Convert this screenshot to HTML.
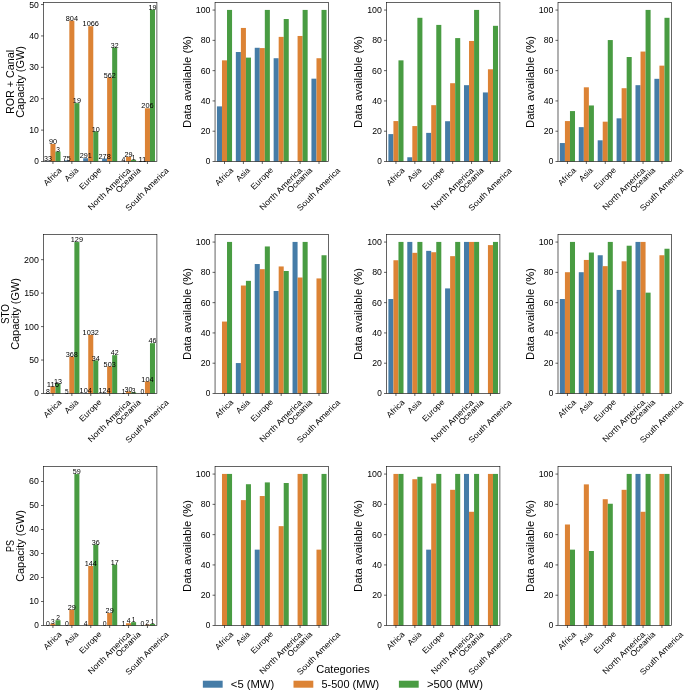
<!DOCTYPE html>
<html><head><meta charset="utf-8"><title>Hydropower capacity and data availability</title>
<style>
html,body{margin:0;padding:0;background:#fff;}
svg{display:block;font-family:"Liberation Sans",sans-serif;}
svg{will-change:transform;transform:translateZ(0);}
</style></head>
<body>
<svg width="685" height="691" viewBox="0 0 685 691">
<rect x="0" y="0" width="685" height="691" fill="#ffffff"/>
<rect x="45.39" y="161.19" width="5.04" height="0.31" fill="#457ca7"/>
<rect x="50.43" y="143.98" width="5.04" height="17.52" fill="#dc8335"/>
<rect x="55.47" y="151.58" width="5.04" height="9.92" fill="#499c42"/>
<rect x="64.29" y="160.40" width="5.04" height="1.10" fill="#457ca7"/>
<rect x="69.33" y="20.64" width="5.04" height="140.86" fill="#dc8335"/>
<rect x="74.37" y="103.11" width="5.04" height="58.39" fill="#499c42"/>
<rect x="83.19" y="158.24" width="5.04" height="3.26" fill="#457ca7"/>
<rect x="88.23" y="26.20" width="5.04" height="135.30" fill="#dc8335"/>
<rect x="93.27" y="131.36" width="5.04" height="30.14" fill="#499c42"/>
<rect x="102.09" y="158.58" width="5.04" height="2.92" fill="#457ca7"/>
<rect x="107.13" y="77.37" width="5.04" height="84.13" fill="#dc8335"/>
<rect x="112.17" y="47.55" width="5.04" height="113.95" fill="#499c42"/>
<rect x="120.99" y="161.41" width="5.04" height="0.09" fill="#457ca7"/>
<rect x="126.03" y="156.79" width="5.04" height="4.71" fill="#dc8335"/>
<rect x="131.07" y="159.80" width="5.04" height="1.70" fill="#499c42"/>
<rect x="139.89" y="161.34" width="5.04" height="0.16" fill="#457ca7"/>
<rect x="144.93" y="108.29" width="5.04" height="53.21" fill="#dc8335"/>
<rect x="149.97" y="9.56" width="5.04" height="151.94" fill="#499c42"/>
<rect x="43.50" y="2.50" width="113.40" height="159.00" fill="none" stroke="#111111" stroke-width="0.65"/>
<line x1="52.95" y1="161.50" x2="52.95" y2="164.00" stroke="#111111" stroke-width="0.65"/>
<g transform="translate(52.95 177.07) rotate(-45)"><text x="0.00" y="2.18" font-size="8.26" text-anchor="middle" textLength="21.77" lengthAdjust="spacingAndGlyphs" fill="#000000">Africa</text></g>
<line x1="71.85" y1="161.50" x2="71.85" y2="164.00" stroke="#111111" stroke-width="0.65"/>
<g transform="translate(71.85 174.96) rotate(-45)"><text x="0.00" y="2.18" font-size="8.26" text-anchor="middle" textLength="15.79" lengthAdjust="spacingAndGlyphs" fill="#000000">Asia</text></g>
<line x1="90.75" y1="161.50" x2="90.75" y2="164.00" stroke="#111111" stroke-width="0.65"/>
<g transform="translate(90.75 178.93) rotate(-45)"><text x="0.00" y="2.18" font-size="8.26" text-anchor="middle" textLength="27.68" lengthAdjust="spacingAndGlyphs" fill="#000000">Europe</text></g>
<line x1="109.65" y1="161.50" x2="109.65" y2="164.00" stroke="#111111" stroke-width="0.65"/>
<g transform="translate(109.65 189.32) rotate(-45)"><text x="0.00" y="2.18" font-size="8.26" text-anchor="middle" textLength="56.43" lengthAdjust="spacingAndGlyphs" fill="#000000">North America</text></g>
<line x1="128.55" y1="161.50" x2="128.55" y2="164.00" stroke="#111111" stroke-width="0.65"/>
<g transform="translate(128.55 180.53) rotate(-45)"><text x="0.00" y="2.18" font-size="8.26" text-anchor="middle" textLength="31.54" lengthAdjust="spacingAndGlyphs" fill="#000000">Oceania</text></g>
<line x1="147.45" y1="161.50" x2="147.45" y2="164.00" stroke="#111111" stroke-width="0.65"/>
<g transform="translate(147.45 189.63) rotate(-45)"><text x="0.00" y="2.18" font-size="8.26" text-anchor="middle" textLength="57.22" lengthAdjust="spacingAndGlyphs" fill="#000000">South America</text></g>
<line x1="41.00" y1="161.50" x2="43.50" y2="161.50" stroke="#111111" stroke-width="0.65"/>
<text x="38.90" y="164.48" font-size="8.41" text-anchor="end" textLength="4.63" lengthAdjust="spacingAndGlyphs" fill="#000000">0</text>
<line x1="41.00" y1="130.11" x2="43.50" y2="130.11" stroke="#111111" stroke-width="0.65"/>
<text x="38.90" y="133.09" font-size="8.41" text-anchor="end" textLength="9.66" lengthAdjust="spacingAndGlyphs" fill="#000000">10</text>
<line x1="41.00" y1="98.72" x2="43.50" y2="98.72" stroke="#111111" stroke-width="0.65"/>
<text x="38.90" y="101.69" font-size="8.41" text-anchor="end" textLength="9.72" lengthAdjust="spacingAndGlyphs" fill="#000000">20</text>
<line x1="41.00" y1="67.32" x2="43.50" y2="67.32" stroke="#111111" stroke-width="0.65"/>
<text x="38.90" y="70.30" font-size="8.41" text-anchor="end" textLength="9.58" lengthAdjust="spacingAndGlyphs" fill="#000000">30</text>
<line x1="41.00" y1="35.93" x2="43.50" y2="35.93" stroke="#111111" stroke-width="0.65"/>
<text x="38.90" y="38.91" font-size="8.41" text-anchor="end" textLength="9.67" lengthAdjust="spacingAndGlyphs" fill="#000000">40</text>
<line x1="41.00" y1="4.54" x2="43.50" y2="4.54" stroke="#111111" stroke-width="0.65"/>
<text x="38.90" y="7.52" font-size="8.41" text-anchor="end" textLength="9.59" lengthAdjust="spacingAndGlyphs" fill="#000000">50</text>
<text x="0.00" y="0.00" font-size="10.40" text-anchor="middle" textLength="64.23" lengthAdjust="spacingAndGlyphs" fill="#000000" transform="translate(13.50 82.00) rotate(-90)">ROR + Canal</text>
<text x="0.00" y="0.00" font-size="10.40" text-anchor="middle" textLength="71.78" lengthAdjust="spacingAndGlyphs" fill="#000000" transform="translate(23.60 82.00) rotate(-90)">Capacity (GW)</text>
<text x="47.91" y="161.39" font-size="6.98" text-anchor="middle" textLength="7.89" lengthAdjust="spacingAndGlyphs" fill="#000000">33</text>
<text x="52.95" y="144.18" font-size="6.98" text-anchor="middle" textLength="8.11" lengthAdjust="spacingAndGlyphs" fill="#000000">90</text>
<text x="57.99" y="151.78" font-size="6.98" text-anchor="middle" textLength="3.69" lengthAdjust="spacingAndGlyphs" fill="#000000">3</text>
<text x="66.81" y="160.60" font-size="6.98" text-anchor="middle" textLength="7.88" lengthAdjust="spacingAndGlyphs" fill="#000000">75</text>
<text x="71.85" y="20.84" font-size="6.98" text-anchor="middle" textLength="12.23" lengthAdjust="spacingAndGlyphs" fill="#000000">804</text>
<text x="76.89" y="103.31" font-size="6.98" text-anchor="middle" textLength="8.05" lengthAdjust="spacingAndGlyphs" fill="#000000">19</text>
<text x="85.71" y="158.44" font-size="6.98" text-anchor="middle" textLength="12.13" lengthAdjust="spacingAndGlyphs" fill="#000000">291</text>
<text x="90.75" y="26.40" font-size="6.98" text-anchor="middle" textLength="16.43" lengthAdjust="spacingAndGlyphs" fill="#000000">1066</text>
<text x="95.79" y="131.56" font-size="6.98" text-anchor="middle" textLength="8.01" lengthAdjust="spacingAndGlyphs" fill="#000000">10</text>
<text x="104.61" y="158.78" font-size="6.98" text-anchor="middle" textLength="12.26" lengthAdjust="spacingAndGlyphs" fill="#000000">278</text>
<text x="109.65" y="77.57" font-size="6.98" text-anchor="middle" textLength="12.00" lengthAdjust="spacingAndGlyphs" fill="#000000">562</text>
<text x="114.69" y="47.75" font-size="6.98" text-anchor="middle" textLength="7.81" lengthAdjust="spacingAndGlyphs" fill="#000000">32</text>
<text x="123.51" y="161.61" font-size="6.98" text-anchor="middle" textLength="3.84" lengthAdjust="spacingAndGlyphs" fill="#000000">4</text>
<text x="128.55" y="156.99" font-size="6.98" text-anchor="middle" textLength="8.10" lengthAdjust="spacingAndGlyphs" fill="#000000">29</text>
<text x="133.59" y="160.00" font-size="6.98" text-anchor="middle" textLength="3.67" lengthAdjust="spacingAndGlyphs" fill="#000000">1</text>
<text x="142.41" y="161.54" font-size="6.98" text-anchor="middle" textLength="7.97" lengthAdjust="spacingAndGlyphs" fill="#000000">11</text>
<text x="147.45" y="108.49" font-size="6.98" text-anchor="middle" textLength="12.30" lengthAdjust="spacingAndGlyphs" fill="#000000">206</text>
<text x="152.49" y="9.76" font-size="6.98" text-anchor="middle" textLength="8.05" lengthAdjust="spacingAndGlyphs" fill="#000000">19</text>
<rect x="216.94" y="106.38" width="5.04" height="55.12" fill="#457ca7"/>
<rect x="221.98" y="60.35" width="5.04" height="101.15" fill="#dc8335"/>
<rect x="227.02" y="9.92" width="5.04" height="151.58" fill="#499c42"/>
<rect x="235.84" y="52.02" width="5.04" height="109.48" fill="#457ca7"/>
<rect x="240.88" y="27.94" width="5.04" height="133.56" fill="#dc8335"/>
<rect x="245.92" y="57.62" width="5.04" height="103.88" fill="#499c42"/>
<rect x="254.74" y="47.78" width="5.04" height="113.72" fill="#457ca7"/>
<rect x="259.78" y="48.08" width="5.04" height="113.42" fill="#dc8335"/>
<rect x="264.82" y="9.92" width="5.04" height="151.58" fill="#499c42"/>
<rect x="273.64" y="58.23" width="5.04" height="103.27" fill="#457ca7"/>
<rect x="278.68" y="36.88" width="5.04" height="124.62" fill="#dc8335"/>
<rect x="283.72" y="19.01" width="5.04" height="142.49" fill="#499c42"/>
<rect x="297.58" y="35.97" width="5.04" height="125.53" fill="#dc8335"/>
<rect x="302.62" y="9.92" width="5.04" height="151.58" fill="#499c42"/>
<rect x="311.44" y="78.67" width="5.04" height="82.83" fill="#457ca7"/>
<rect x="316.48" y="58.23" width="5.04" height="103.27" fill="#dc8335"/>
<rect x="321.52" y="9.92" width="5.04" height="151.58" fill="#499c42"/>
<rect x="215.05" y="2.50" width="113.40" height="159.00" fill="none" stroke="#111111" stroke-width="0.65"/>
<line x1="224.50" y1="161.50" x2="224.50" y2="164.00" stroke="#111111" stroke-width="0.65"/>
<g transform="translate(224.50 177.07) rotate(-45)"><text x="0.00" y="2.18" font-size="8.26" text-anchor="middle" textLength="21.77" lengthAdjust="spacingAndGlyphs" fill="#000000">Africa</text></g>
<line x1="243.40" y1="161.50" x2="243.40" y2="164.00" stroke="#111111" stroke-width="0.65"/>
<g transform="translate(243.40 174.96) rotate(-45)"><text x="0.00" y="2.18" font-size="8.26" text-anchor="middle" textLength="15.79" lengthAdjust="spacingAndGlyphs" fill="#000000">Asia</text></g>
<line x1="262.30" y1="161.50" x2="262.30" y2="164.00" stroke="#111111" stroke-width="0.65"/>
<g transform="translate(262.30 178.93) rotate(-45)"><text x="0.00" y="2.18" font-size="8.26" text-anchor="middle" textLength="27.68" lengthAdjust="spacingAndGlyphs" fill="#000000">Europe</text></g>
<line x1="281.20" y1="161.50" x2="281.20" y2="164.00" stroke="#111111" stroke-width="0.65"/>
<g transform="translate(281.20 189.32) rotate(-45)"><text x="0.00" y="2.18" font-size="8.26" text-anchor="middle" textLength="56.43" lengthAdjust="spacingAndGlyphs" fill="#000000">North America</text></g>
<line x1="300.10" y1="161.50" x2="300.10" y2="164.00" stroke="#111111" stroke-width="0.65"/>
<g transform="translate(300.10 180.53) rotate(-45)"><text x="0.00" y="2.18" font-size="8.26" text-anchor="middle" textLength="31.54" lengthAdjust="spacingAndGlyphs" fill="#000000">Oceania</text></g>
<line x1="319.00" y1="161.50" x2="319.00" y2="164.00" stroke="#111111" stroke-width="0.65"/>
<g transform="translate(319.00 189.63) rotate(-45)"><text x="0.00" y="2.18" font-size="8.26" text-anchor="middle" textLength="57.22" lengthAdjust="spacingAndGlyphs" fill="#000000">South America</text></g>
<line x1="212.55" y1="161.50" x2="215.05" y2="161.50" stroke="#111111" stroke-width="0.65"/>
<text x="210.45" y="164.48" font-size="8.41" text-anchor="end" textLength="4.63" lengthAdjust="spacingAndGlyphs" fill="#000000">0</text>
<line x1="212.55" y1="131.21" x2="215.05" y2="131.21" stroke="#111111" stroke-width="0.65"/>
<text x="210.45" y="134.19" font-size="8.41" text-anchor="end" textLength="9.72" lengthAdjust="spacingAndGlyphs" fill="#000000">20</text>
<line x1="212.55" y1="100.93" x2="215.05" y2="100.93" stroke="#111111" stroke-width="0.65"/>
<text x="210.45" y="103.91" font-size="8.41" text-anchor="end" textLength="9.67" lengthAdjust="spacingAndGlyphs" fill="#000000">40</text>
<line x1="212.55" y1="70.64" x2="215.05" y2="70.64" stroke="#111111" stroke-width="0.65"/>
<text x="210.45" y="73.62" font-size="8.41" text-anchor="end" textLength="9.76" lengthAdjust="spacingAndGlyphs" fill="#000000">60</text>
<line x1="212.55" y1="40.36" x2="215.05" y2="40.36" stroke="#111111" stroke-width="0.65"/>
<text x="210.45" y="43.34" font-size="8.41" text-anchor="end" textLength="9.71" lengthAdjust="spacingAndGlyphs" fill="#000000">80</text>
<line x1="212.55" y1="10.07" x2="215.05" y2="10.07" stroke="#111111" stroke-width="0.65"/>
<text x="210.45" y="13.05" font-size="8.41" text-anchor="end" textLength="14.70" lengthAdjust="spacingAndGlyphs" fill="#000000">100</text>
<text x="0.00" y="0.00" font-size="10.40" text-anchor="middle" textLength="92.01" lengthAdjust="spacingAndGlyphs" fill="#000000" transform="translate(190.95 82.00) rotate(-90)">Data available (%)</text>
<rect x="388.39" y="134.09" width="5.04" height="27.41" fill="#457ca7"/>
<rect x="393.43" y="121.07" width="5.04" height="40.43" fill="#dc8335"/>
<rect x="398.47" y="60.35" width="5.04" height="101.15" fill="#499c42"/>
<rect x="407.29" y="157.26" width="5.04" height="4.24" fill="#457ca7"/>
<rect x="412.33" y="126.07" width="5.04" height="35.43" fill="#dc8335"/>
<rect x="417.37" y="17.80" width="5.04" height="143.70" fill="#499c42"/>
<rect x="426.19" y="132.88" width="5.04" height="28.62" fill="#457ca7"/>
<rect x="431.23" y="105.17" width="5.04" height="56.33" fill="#dc8335"/>
<rect x="436.27" y="24.91" width="5.04" height="136.59" fill="#499c42"/>
<rect x="445.09" y="121.22" width="5.04" height="40.28" fill="#457ca7"/>
<rect x="450.13" y="83.21" width="5.04" height="78.29" fill="#dc8335"/>
<rect x="455.17" y="38.09" width="5.04" height="123.41" fill="#499c42"/>
<rect x="463.99" y="85.18" width="5.04" height="76.32" fill="#457ca7"/>
<rect x="469.03" y="40.96" width="5.04" height="120.54" fill="#dc8335"/>
<rect x="474.07" y="9.92" width="5.04" height="151.58" fill="#499c42"/>
<rect x="482.89" y="92.45" width="5.04" height="69.05" fill="#457ca7"/>
<rect x="487.93" y="69.28" width="5.04" height="92.22" fill="#dc8335"/>
<rect x="492.97" y="25.82" width="5.04" height="135.68" fill="#499c42"/>
<rect x="386.50" y="2.50" width="113.40" height="159.00" fill="none" stroke="#111111" stroke-width="0.65"/>
<line x1="395.95" y1="161.50" x2="395.95" y2="164.00" stroke="#111111" stroke-width="0.65"/>
<g transform="translate(395.95 177.07) rotate(-45)"><text x="0.00" y="2.18" font-size="8.26" text-anchor="middle" textLength="21.77" lengthAdjust="spacingAndGlyphs" fill="#000000">Africa</text></g>
<line x1="414.85" y1="161.50" x2="414.85" y2="164.00" stroke="#111111" stroke-width="0.65"/>
<g transform="translate(414.85 174.96) rotate(-45)"><text x="0.00" y="2.18" font-size="8.26" text-anchor="middle" textLength="15.79" lengthAdjust="spacingAndGlyphs" fill="#000000">Asia</text></g>
<line x1="433.75" y1="161.50" x2="433.75" y2="164.00" stroke="#111111" stroke-width="0.65"/>
<g transform="translate(433.75 178.93) rotate(-45)"><text x="0.00" y="2.18" font-size="8.26" text-anchor="middle" textLength="27.68" lengthAdjust="spacingAndGlyphs" fill="#000000">Europe</text></g>
<line x1="452.65" y1="161.50" x2="452.65" y2="164.00" stroke="#111111" stroke-width="0.65"/>
<g transform="translate(452.65 189.32) rotate(-45)"><text x="0.00" y="2.18" font-size="8.26" text-anchor="middle" textLength="56.43" lengthAdjust="spacingAndGlyphs" fill="#000000">North America</text></g>
<line x1="471.55" y1="161.50" x2="471.55" y2="164.00" stroke="#111111" stroke-width="0.65"/>
<g transform="translate(471.55 180.53) rotate(-45)"><text x="0.00" y="2.18" font-size="8.26" text-anchor="middle" textLength="31.54" lengthAdjust="spacingAndGlyphs" fill="#000000">Oceania</text></g>
<line x1="490.45" y1="161.50" x2="490.45" y2="164.00" stroke="#111111" stroke-width="0.65"/>
<g transform="translate(490.45 189.63) rotate(-45)"><text x="0.00" y="2.18" font-size="8.26" text-anchor="middle" textLength="57.22" lengthAdjust="spacingAndGlyphs" fill="#000000">South America</text></g>
<line x1="384.00" y1="161.50" x2="386.50" y2="161.50" stroke="#111111" stroke-width="0.65"/>
<text x="381.90" y="164.48" font-size="8.41" text-anchor="end" textLength="4.63" lengthAdjust="spacingAndGlyphs" fill="#000000">0</text>
<line x1="384.00" y1="131.21" x2="386.50" y2="131.21" stroke="#111111" stroke-width="0.65"/>
<text x="381.90" y="134.19" font-size="8.41" text-anchor="end" textLength="9.72" lengthAdjust="spacingAndGlyphs" fill="#000000">20</text>
<line x1="384.00" y1="100.93" x2="386.50" y2="100.93" stroke="#111111" stroke-width="0.65"/>
<text x="381.90" y="103.91" font-size="8.41" text-anchor="end" textLength="9.67" lengthAdjust="spacingAndGlyphs" fill="#000000">40</text>
<line x1="384.00" y1="70.64" x2="386.50" y2="70.64" stroke="#111111" stroke-width="0.65"/>
<text x="381.90" y="73.62" font-size="8.41" text-anchor="end" textLength="9.76" lengthAdjust="spacingAndGlyphs" fill="#000000">60</text>
<line x1="384.00" y1="40.36" x2="386.50" y2="40.36" stroke="#111111" stroke-width="0.65"/>
<text x="381.90" y="43.34" font-size="8.41" text-anchor="end" textLength="9.71" lengthAdjust="spacingAndGlyphs" fill="#000000">80</text>
<line x1="384.00" y1="10.07" x2="386.50" y2="10.07" stroke="#111111" stroke-width="0.65"/>
<text x="381.90" y="13.05" font-size="8.41" text-anchor="end" textLength="14.70" lengthAdjust="spacingAndGlyphs" fill="#000000">100</text>
<text x="0.00" y="0.00" font-size="10.40" text-anchor="middle" textLength="92.01" lengthAdjust="spacingAndGlyphs" fill="#000000" transform="translate(362.40 82.00) rotate(-90)">Data available (%)</text>
<rect x="559.89" y="143.03" width="5.04" height="18.47" fill="#457ca7"/>
<rect x="564.93" y="121.07" width="5.04" height="40.43" fill="#dc8335"/>
<rect x="569.97" y="111.08" width="5.04" height="50.42" fill="#499c42"/>
<rect x="578.79" y="127.13" width="5.04" height="34.37" fill="#457ca7"/>
<rect x="583.83" y="87.30" width="5.04" height="74.20" fill="#dc8335"/>
<rect x="588.87" y="105.47" width="5.04" height="56.03" fill="#499c42"/>
<rect x="597.69" y="140.30" width="5.04" height="21.20" fill="#457ca7"/>
<rect x="602.73" y="121.68" width="5.04" height="39.82" fill="#dc8335"/>
<rect x="607.77" y="40.06" width="5.04" height="121.44" fill="#499c42"/>
<rect x="616.59" y="118.34" width="5.04" height="43.16" fill="#457ca7"/>
<rect x="621.63" y="88.21" width="5.04" height="73.29" fill="#dc8335"/>
<rect x="626.67" y="57.02" width="5.04" height="104.48" fill="#499c42"/>
<rect x="635.49" y="85.18" width="5.04" height="76.32" fill="#457ca7"/>
<rect x="640.53" y="51.56" width="5.04" height="109.94" fill="#dc8335"/>
<rect x="645.57" y="9.92" width="5.04" height="151.58" fill="#499c42"/>
<rect x="654.39" y="78.82" width="5.04" height="82.68" fill="#457ca7"/>
<rect x="659.43" y="65.65" width="5.04" height="95.85" fill="#dc8335"/>
<rect x="664.47" y="17.80" width="5.04" height="143.70" fill="#499c42"/>
<rect x="558.00" y="2.50" width="113.40" height="159.00" fill="none" stroke="#111111" stroke-width="0.65"/>
<line x1="567.45" y1="161.50" x2="567.45" y2="164.00" stroke="#111111" stroke-width="0.65"/>
<g transform="translate(567.45 177.07) rotate(-45)"><text x="0.00" y="2.18" font-size="8.26" text-anchor="middle" textLength="21.77" lengthAdjust="spacingAndGlyphs" fill="#000000">Africa</text></g>
<line x1="586.35" y1="161.50" x2="586.35" y2="164.00" stroke="#111111" stroke-width="0.65"/>
<g transform="translate(586.35 174.96) rotate(-45)"><text x="0.00" y="2.18" font-size="8.26" text-anchor="middle" textLength="15.79" lengthAdjust="spacingAndGlyphs" fill="#000000">Asia</text></g>
<line x1="605.25" y1="161.50" x2="605.25" y2="164.00" stroke="#111111" stroke-width="0.65"/>
<g transform="translate(605.25 178.93) rotate(-45)"><text x="0.00" y="2.18" font-size="8.26" text-anchor="middle" textLength="27.68" lengthAdjust="spacingAndGlyphs" fill="#000000">Europe</text></g>
<line x1="624.15" y1="161.50" x2="624.15" y2="164.00" stroke="#111111" stroke-width="0.65"/>
<g transform="translate(624.15 189.32) rotate(-45)"><text x="0.00" y="2.18" font-size="8.26" text-anchor="middle" textLength="56.43" lengthAdjust="spacingAndGlyphs" fill="#000000">North America</text></g>
<line x1="643.05" y1="161.50" x2="643.05" y2="164.00" stroke="#111111" stroke-width="0.65"/>
<g transform="translate(643.05 180.53) rotate(-45)"><text x="0.00" y="2.18" font-size="8.26" text-anchor="middle" textLength="31.54" lengthAdjust="spacingAndGlyphs" fill="#000000">Oceania</text></g>
<line x1="661.95" y1="161.50" x2="661.95" y2="164.00" stroke="#111111" stroke-width="0.65"/>
<g transform="translate(661.95 189.63) rotate(-45)"><text x="0.00" y="2.18" font-size="8.26" text-anchor="middle" textLength="57.22" lengthAdjust="spacingAndGlyphs" fill="#000000">South America</text></g>
<line x1="555.50" y1="161.50" x2="558.00" y2="161.50" stroke="#111111" stroke-width="0.65"/>
<text x="553.40" y="164.48" font-size="8.41" text-anchor="end" textLength="4.63" lengthAdjust="spacingAndGlyphs" fill="#000000">0</text>
<line x1="555.50" y1="131.21" x2="558.00" y2="131.21" stroke="#111111" stroke-width="0.65"/>
<text x="553.40" y="134.19" font-size="8.41" text-anchor="end" textLength="9.72" lengthAdjust="spacingAndGlyphs" fill="#000000">20</text>
<line x1="555.50" y1="100.93" x2="558.00" y2="100.93" stroke="#111111" stroke-width="0.65"/>
<text x="553.40" y="103.91" font-size="8.41" text-anchor="end" textLength="9.67" lengthAdjust="spacingAndGlyphs" fill="#000000">40</text>
<line x1="555.50" y1="70.64" x2="558.00" y2="70.64" stroke="#111111" stroke-width="0.65"/>
<text x="553.40" y="73.62" font-size="8.41" text-anchor="end" textLength="9.76" lengthAdjust="spacingAndGlyphs" fill="#000000">60</text>
<line x1="555.50" y1="40.36" x2="558.00" y2="40.36" stroke="#111111" stroke-width="0.65"/>
<text x="553.40" y="43.34" font-size="8.41" text-anchor="end" textLength="9.71" lengthAdjust="spacingAndGlyphs" fill="#000000">80</text>
<line x1="555.50" y1="10.07" x2="558.00" y2="10.07" stroke="#111111" stroke-width="0.65"/>
<text x="553.40" y="13.05" font-size="8.41" text-anchor="end" textLength="14.70" lengthAdjust="spacingAndGlyphs" fill="#000000">100</text>
<text x="0.00" y="0.00" font-size="10.40" text-anchor="middle" textLength="92.01" lengthAdjust="spacingAndGlyphs" fill="#000000" transform="translate(533.90 82.00) rotate(-90)">Data available (%)</text>
<rect x="45.39" y="393.43" width="5.04" height="0.07" fill="#457ca7"/>
<rect x="50.43" y="386.47" width="5.04" height="7.03" fill="#dc8335"/>
<rect x="55.47" y="383.53" width="5.04" height="9.97" fill="#499c42"/>
<rect x="64.29" y="393.37" width="5.04" height="0.13" fill="#457ca7"/>
<rect x="69.33" y="356.69" width="5.04" height="36.81" fill="#dc8335"/>
<rect x="74.37" y="242.06" width="5.04" height="151.44" fill="#499c42"/>
<rect x="83.19" y="393.10" width="5.04" height="0.40" fill="#457ca7"/>
<rect x="88.23" y="334.81" width="5.04" height="58.69" fill="#dc8335"/>
<rect x="93.27" y="360.38" width="5.04" height="33.12" fill="#499c42"/>
<rect x="102.09" y="393.10" width="5.04" height="0.40" fill="#457ca7"/>
<rect x="107.13" y="366.33" width="5.04" height="27.17" fill="#dc8335"/>
<rect x="112.17" y="355.16" width="5.04" height="38.34" fill="#499c42"/>
<rect x="126.03" y="391.43" width="5.04" height="2.07" fill="#dc8335"/>
<rect x="131.07" y="392.30" width="5.04" height="1.20" fill="#499c42"/>
<rect x="144.93" y="381.39" width="5.04" height="12.11" fill="#dc8335"/>
<rect x="149.97" y="343.18" width="5.04" height="50.32" fill="#499c42"/>
<rect x="43.50" y="234.50" width="113.40" height="159.00" fill="none" stroke="#111111" stroke-width="0.65"/>
<line x1="52.95" y1="393.50" x2="52.95" y2="396.00" stroke="#111111" stroke-width="0.65"/>
<g transform="translate(52.95 409.07) rotate(-45)"><text x="0.00" y="2.18" font-size="8.26" text-anchor="middle" textLength="21.77" lengthAdjust="spacingAndGlyphs" fill="#000000">Africa</text></g>
<line x1="71.85" y1="393.50" x2="71.85" y2="396.00" stroke="#111111" stroke-width="0.65"/>
<g transform="translate(71.85 406.96) rotate(-45)"><text x="0.00" y="2.18" font-size="8.26" text-anchor="middle" textLength="15.79" lengthAdjust="spacingAndGlyphs" fill="#000000">Asia</text></g>
<line x1="90.75" y1="393.50" x2="90.75" y2="396.00" stroke="#111111" stroke-width="0.65"/>
<g transform="translate(90.75 410.93) rotate(-45)"><text x="0.00" y="2.18" font-size="8.26" text-anchor="middle" textLength="27.68" lengthAdjust="spacingAndGlyphs" fill="#000000">Europe</text></g>
<line x1="109.65" y1="393.50" x2="109.65" y2="396.00" stroke="#111111" stroke-width="0.65"/>
<g transform="translate(109.65 421.32) rotate(-45)"><text x="0.00" y="2.18" font-size="8.26" text-anchor="middle" textLength="56.43" lengthAdjust="spacingAndGlyphs" fill="#000000">North America</text></g>
<line x1="128.55" y1="393.50" x2="128.55" y2="396.00" stroke="#111111" stroke-width="0.65"/>
<g transform="translate(128.55 412.53) rotate(-45)"><text x="0.00" y="2.18" font-size="8.26" text-anchor="middle" textLength="31.54" lengthAdjust="spacingAndGlyphs" fill="#000000">Oceania</text></g>
<line x1="147.45" y1="393.50" x2="147.45" y2="396.00" stroke="#111111" stroke-width="0.65"/>
<g transform="translate(147.45 421.63) rotate(-45)"><text x="0.00" y="2.18" font-size="8.26" text-anchor="middle" textLength="57.22" lengthAdjust="spacingAndGlyphs" fill="#000000">South America</text></g>
<line x1="41.00" y1="393.50" x2="43.50" y2="393.50" stroke="#111111" stroke-width="0.65"/>
<text x="38.90" y="396.48" font-size="8.41" text-anchor="end" textLength="4.63" lengthAdjust="spacingAndGlyphs" fill="#000000">0</text>
<line x1="41.00" y1="360.04" x2="43.50" y2="360.04" stroke="#111111" stroke-width="0.65"/>
<text x="38.90" y="363.02" font-size="8.41" text-anchor="end" textLength="9.59" lengthAdjust="spacingAndGlyphs" fill="#000000">50</text>
<line x1="41.00" y1="326.58" x2="43.50" y2="326.58" stroke="#111111" stroke-width="0.65"/>
<text x="38.90" y="329.56" font-size="8.41" text-anchor="end" textLength="14.70" lengthAdjust="spacingAndGlyphs" fill="#000000">100</text>
<line x1="41.00" y1="293.12" x2="43.50" y2="293.12" stroke="#111111" stroke-width="0.65"/>
<text x="38.90" y="296.10" font-size="8.41" text-anchor="end" textLength="14.70" lengthAdjust="spacingAndGlyphs" fill="#000000">150</text>
<line x1="41.00" y1="259.66" x2="43.50" y2="259.66" stroke="#111111" stroke-width="0.65"/>
<text x="38.90" y="262.64" font-size="8.41" text-anchor="end" textLength="14.76" lengthAdjust="spacingAndGlyphs" fill="#000000">200</text>
<text x="0.00" y="0.00" font-size="10.40" text-anchor="middle" textLength="19.93" lengthAdjust="spacingAndGlyphs" fill="#000000" transform="translate(8.80 314.00) rotate(-90)">STO</text>
<text x="0.00" y="0.00" font-size="10.40" text-anchor="middle" textLength="71.78" lengthAdjust="spacingAndGlyphs" fill="#000000" transform="translate(18.90 314.00) rotate(-90)">Capacity (GW)</text>
<text x="47.91" y="393.63" font-size="6.98" text-anchor="middle" textLength="3.88" lengthAdjust="spacingAndGlyphs" fill="#000000">8</text>
<text x="52.95" y="386.67" font-size="6.98" text-anchor="middle" textLength="12.30" lengthAdjust="spacingAndGlyphs" fill="#000000">116</text>
<text x="57.99" y="383.73" font-size="6.98" text-anchor="middle" textLength="7.95" lengthAdjust="spacingAndGlyphs" fill="#000000">13</text>
<text x="66.81" y="393.57" font-size="6.98" text-anchor="middle" textLength="3.62" lengthAdjust="spacingAndGlyphs" fill="#000000">5</text>
<text x="71.85" y="356.89" font-size="6.98" text-anchor="middle" textLength="12.15" lengthAdjust="spacingAndGlyphs" fill="#000000">368</text>
<text x="76.89" y="242.26" font-size="6.98" text-anchor="middle" textLength="12.23" lengthAdjust="spacingAndGlyphs" fill="#000000">129</text>
<text x="85.71" y="393.30" font-size="6.98" text-anchor="middle" textLength="12.19" lengthAdjust="spacingAndGlyphs" fill="#000000">104</text>
<text x="90.75" y="335.01" font-size="6.98" text-anchor="middle" textLength="16.23" lengthAdjust="spacingAndGlyphs" fill="#000000">1032</text>
<text x="95.79" y="360.57" font-size="6.98" text-anchor="middle" textLength="7.95" lengthAdjust="spacingAndGlyphs" fill="#000000">34</text>
<text x="104.61" y="393.30" font-size="6.98" text-anchor="middle" textLength="12.19" lengthAdjust="spacingAndGlyphs" fill="#000000">124</text>
<text x="109.65" y="366.53" font-size="6.98" text-anchor="middle" textLength="12.08" lengthAdjust="spacingAndGlyphs" fill="#000000">503</text>
<text x="114.69" y="355.36" font-size="6.98" text-anchor="middle" textLength="7.88" lengthAdjust="spacingAndGlyphs" fill="#000000">42</text>
<text x="123.51" y="393.70" font-size="6.98" text-anchor="middle" textLength="3.67" lengthAdjust="spacingAndGlyphs" fill="#000000">1</text>
<text x="128.55" y="391.63" font-size="6.98" text-anchor="middle" textLength="7.95" lengthAdjust="spacingAndGlyphs" fill="#000000">30</text>
<text x="133.59" y="392.50" font-size="6.98" text-anchor="middle" textLength="3.69" lengthAdjust="spacingAndGlyphs" fill="#000000">3</text>
<text x="142.41" y="393.70" font-size="6.98" text-anchor="middle" textLength="3.84" lengthAdjust="spacingAndGlyphs" fill="#000000">0</text>
<text x="147.45" y="381.59" font-size="6.98" text-anchor="middle" textLength="12.19" lengthAdjust="spacingAndGlyphs" fill="#000000">104</text>
<text x="152.49" y="343.38" font-size="6.98" text-anchor="middle" textLength="8.09" lengthAdjust="spacingAndGlyphs" fill="#000000">46</text>
<rect x="221.98" y="321.57" width="5.04" height="71.93" fill="#dc8335"/>
<rect x="227.02" y="241.92" width="5.04" height="151.58" fill="#499c42"/>
<rect x="235.84" y="363.06" width="5.04" height="30.44" fill="#457ca7"/>
<rect x="240.88" y="285.53" width="5.04" height="107.97" fill="#dc8335"/>
<rect x="245.92" y="280.84" width="5.04" height="112.66" fill="#499c42"/>
<rect x="254.74" y="264.03" width="5.04" height="129.47" fill="#457ca7"/>
<rect x="259.78" y="269.18" width="5.04" height="124.32" fill="#dc8335"/>
<rect x="264.82" y="246.46" width="5.04" height="147.04" fill="#499c42"/>
<rect x="273.64" y="290.98" width="5.04" height="102.52" fill="#457ca7"/>
<rect x="278.68" y="266.45" width="5.04" height="127.05" fill="#dc8335"/>
<rect x="283.72" y="271.00" width="5.04" height="122.50" fill="#499c42"/>
<rect x="292.54" y="241.92" width="5.04" height="151.58" fill="#457ca7"/>
<rect x="297.58" y="277.51" width="5.04" height="115.99" fill="#dc8335"/>
<rect x="302.62" y="241.92" width="5.04" height="151.58" fill="#499c42"/>
<rect x="316.48" y="278.42" width="5.04" height="115.08" fill="#dc8335"/>
<rect x="321.52" y="255.25" width="5.04" height="138.25" fill="#499c42"/>
<rect x="215.05" y="234.50" width="113.40" height="159.00" fill="none" stroke="#111111" stroke-width="0.65"/>
<line x1="224.50" y1="393.50" x2="224.50" y2="396.00" stroke="#111111" stroke-width="0.65"/>
<g transform="translate(224.50 409.07) rotate(-45)"><text x="0.00" y="2.18" font-size="8.26" text-anchor="middle" textLength="21.77" lengthAdjust="spacingAndGlyphs" fill="#000000">Africa</text></g>
<line x1="243.40" y1="393.50" x2="243.40" y2="396.00" stroke="#111111" stroke-width="0.65"/>
<g transform="translate(243.40 406.96) rotate(-45)"><text x="0.00" y="2.18" font-size="8.26" text-anchor="middle" textLength="15.79" lengthAdjust="spacingAndGlyphs" fill="#000000">Asia</text></g>
<line x1="262.30" y1="393.50" x2="262.30" y2="396.00" stroke="#111111" stroke-width="0.65"/>
<g transform="translate(262.30 410.93) rotate(-45)"><text x="0.00" y="2.18" font-size="8.26" text-anchor="middle" textLength="27.68" lengthAdjust="spacingAndGlyphs" fill="#000000">Europe</text></g>
<line x1="281.20" y1="393.50" x2="281.20" y2="396.00" stroke="#111111" stroke-width="0.65"/>
<g transform="translate(281.20 421.32) rotate(-45)"><text x="0.00" y="2.18" font-size="8.26" text-anchor="middle" textLength="56.43" lengthAdjust="spacingAndGlyphs" fill="#000000">North America</text></g>
<line x1="300.10" y1="393.50" x2="300.10" y2="396.00" stroke="#111111" stroke-width="0.65"/>
<g transform="translate(300.10 412.53) rotate(-45)"><text x="0.00" y="2.18" font-size="8.26" text-anchor="middle" textLength="31.54" lengthAdjust="spacingAndGlyphs" fill="#000000">Oceania</text></g>
<line x1="319.00" y1="393.50" x2="319.00" y2="396.00" stroke="#111111" stroke-width="0.65"/>
<g transform="translate(319.00 421.63) rotate(-45)"><text x="0.00" y="2.18" font-size="8.26" text-anchor="middle" textLength="57.22" lengthAdjust="spacingAndGlyphs" fill="#000000">South America</text></g>
<line x1="212.55" y1="393.50" x2="215.05" y2="393.50" stroke="#111111" stroke-width="0.65"/>
<text x="210.45" y="396.48" font-size="8.41" text-anchor="end" textLength="4.63" lengthAdjust="spacingAndGlyphs" fill="#000000">0</text>
<line x1="212.55" y1="363.21" x2="215.05" y2="363.21" stroke="#111111" stroke-width="0.65"/>
<text x="210.45" y="366.19" font-size="8.41" text-anchor="end" textLength="9.72" lengthAdjust="spacingAndGlyphs" fill="#000000">20</text>
<line x1="212.55" y1="332.93" x2="215.05" y2="332.93" stroke="#111111" stroke-width="0.65"/>
<text x="210.45" y="335.91" font-size="8.41" text-anchor="end" textLength="9.67" lengthAdjust="spacingAndGlyphs" fill="#000000">40</text>
<line x1="212.55" y1="302.64" x2="215.05" y2="302.64" stroke="#111111" stroke-width="0.65"/>
<text x="210.45" y="305.62" font-size="8.41" text-anchor="end" textLength="9.76" lengthAdjust="spacingAndGlyphs" fill="#000000">60</text>
<line x1="212.55" y1="272.36" x2="215.05" y2="272.36" stroke="#111111" stroke-width="0.65"/>
<text x="210.45" y="275.34" font-size="8.41" text-anchor="end" textLength="9.71" lengthAdjust="spacingAndGlyphs" fill="#000000">80</text>
<line x1="212.55" y1="242.07" x2="215.05" y2="242.07" stroke="#111111" stroke-width="0.65"/>
<text x="210.45" y="245.05" font-size="8.41" text-anchor="end" textLength="14.70" lengthAdjust="spacingAndGlyphs" fill="#000000">100</text>
<text x="0.00" y="0.00" font-size="10.40" text-anchor="middle" textLength="92.01" lengthAdjust="spacingAndGlyphs" fill="#000000" transform="translate(190.95 314.00) rotate(-90)">Data available (%)</text>
<rect x="388.39" y="299.01" width="5.04" height="94.49" fill="#457ca7"/>
<rect x="393.43" y="260.24" width="5.04" height="133.26" fill="#dc8335"/>
<rect x="398.47" y="241.92" width="5.04" height="151.58" fill="#499c42"/>
<rect x="407.29" y="241.92" width="5.04" height="151.58" fill="#457ca7"/>
<rect x="412.33" y="252.82" width="5.04" height="140.68" fill="#dc8335"/>
<rect x="417.37" y="241.92" width="5.04" height="151.58" fill="#499c42"/>
<rect x="426.19" y="250.86" width="5.04" height="142.64" fill="#457ca7"/>
<rect x="431.23" y="252.22" width="5.04" height="141.28" fill="#dc8335"/>
<rect x="436.27" y="241.92" width="5.04" height="151.58" fill="#499c42"/>
<rect x="445.09" y="288.41" width="5.04" height="105.09" fill="#457ca7"/>
<rect x="450.13" y="256.16" width="5.04" height="137.34" fill="#dc8335"/>
<rect x="455.17" y="241.92" width="5.04" height="151.58" fill="#499c42"/>
<rect x="463.99" y="241.92" width="5.04" height="151.58" fill="#457ca7"/>
<rect x="469.03" y="241.92" width="5.04" height="151.58" fill="#dc8335"/>
<rect x="474.07" y="241.92" width="5.04" height="151.58" fill="#499c42"/>
<rect x="487.93" y="245.10" width="5.04" height="148.40" fill="#dc8335"/>
<rect x="492.97" y="241.92" width="5.04" height="151.58" fill="#499c42"/>
<rect x="386.50" y="234.50" width="113.40" height="159.00" fill="none" stroke="#111111" stroke-width="0.65"/>
<line x1="395.95" y1="393.50" x2="395.95" y2="396.00" stroke="#111111" stroke-width="0.65"/>
<g transform="translate(395.95 409.07) rotate(-45)"><text x="0.00" y="2.18" font-size="8.26" text-anchor="middle" textLength="21.77" lengthAdjust="spacingAndGlyphs" fill="#000000">Africa</text></g>
<line x1="414.85" y1="393.50" x2="414.85" y2="396.00" stroke="#111111" stroke-width="0.65"/>
<g transform="translate(414.85 406.96) rotate(-45)"><text x="0.00" y="2.18" font-size="8.26" text-anchor="middle" textLength="15.79" lengthAdjust="spacingAndGlyphs" fill="#000000">Asia</text></g>
<line x1="433.75" y1="393.50" x2="433.75" y2="396.00" stroke="#111111" stroke-width="0.65"/>
<g transform="translate(433.75 410.93) rotate(-45)"><text x="0.00" y="2.18" font-size="8.26" text-anchor="middle" textLength="27.68" lengthAdjust="spacingAndGlyphs" fill="#000000">Europe</text></g>
<line x1="452.65" y1="393.50" x2="452.65" y2="396.00" stroke="#111111" stroke-width="0.65"/>
<g transform="translate(452.65 421.32) rotate(-45)"><text x="0.00" y="2.18" font-size="8.26" text-anchor="middle" textLength="56.43" lengthAdjust="spacingAndGlyphs" fill="#000000">North America</text></g>
<line x1="471.55" y1="393.50" x2="471.55" y2="396.00" stroke="#111111" stroke-width="0.65"/>
<g transform="translate(471.55 412.53) rotate(-45)"><text x="0.00" y="2.18" font-size="8.26" text-anchor="middle" textLength="31.54" lengthAdjust="spacingAndGlyphs" fill="#000000">Oceania</text></g>
<line x1="490.45" y1="393.50" x2="490.45" y2="396.00" stroke="#111111" stroke-width="0.65"/>
<g transform="translate(490.45 421.63) rotate(-45)"><text x="0.00" y="2.18" font-size="8.26" text-anchor="middle" textLength="57.22" lengthAdjust="spacingAndGlyphs" fill="#000000">South America</text></g>
<line x1="384.00" y1="393.50" x2="386.50" y2="393.50" stroke="#111111" stroke-width="0.65"/>
<text x="381.90" y="396.48" font-size="8.41" text-anchor="end" textLength="4.63" lengthAdjust="spacingAndGlyphs" fill="#000000">0</text>
<line x1="384.00" y1="363.21" x2="386.50" y2="363.21" stroke="#111111" stroke-width="0.65"/>
<text x="381.90" y="366.19" font-size="8.41" text-anchor="end" textLength="9.72" lengthAdjust="spacingAndGlyphs" fill="#000000">20</text>
<line x1="384.00" y1="332.93" x2="386.50" y2="332.93" stroke="#111111" stroke-width="0.65"/>
<text x="381.90" y="335.91" font-size="8.41" text-anchor="end" textLength="9.67" lengthAdjust="spacingAndGlyphs" fill="#000000">40</text>
<line x1="384.00" y1="302.64" x2="386.50" y2="302.64" stroke="#111111" stroke-width="0.65"/>
<text x="381.90" y="305.62" font-size="8.41" text-anchor="end" textLength="9.76" lengthAdjust="spacingAndGlyphs" fill="#000000">60</text>
<line x1="384.00" y1="272.36" x2="386.50" y2="272.36" stroke="#111111" stroke-width="0.65"/>
<text x="381.90" y="275.34" font-size="8.41" text-anchor="end" textLength="9.71" lengthAdjust="spacingAndGlyphs" fill="#000000">80</text>
<line x1="384.00" y1="242.07" x2="386.50" y2="242.07" stroke="#111111" stroke-width="0.65"/>
<text x="381.90" y="245.05" font-size="8.41" text-anchor="end" textLength="14.70" lengthAdjust="spacingAndGlyphs" fill="#000000">100</text>
<text x="0.00" y="0.00" font-size="10.40" text-anchor="middle" textLength="92.01" lengthAdjust="spacingAndGlyphs" fill="#000000" transform="translate(362.40 314.00) rotate(-90)">Data available (%)</text>
<rect x="559.89" y="299.01" width="5.04" height="94.49" fill="#457ca7"/>
<rect x="564.93" y="272.21" width="5.04" height="121.29" fill="#dc8335"/>
<rect x="569.97" y="241.92" width="5.04" height="151.58" fill="#499c42"/>
<rect x="578.79" y="272.21" width="5.04" height="121.29" fill="#457ca7"/>
<rect x="583.83" y="259.94" width="5.04" height="133.56" fill="#dc8335"/>
<rect x="588.87" y="252.52" width="5.04" height="140.98" fill="#499c42"/>
<rect x="597.69" y="255.25" width="5.04" height="138.25" fill="#457ca7"/>
<rect x="602.73" y="266.15" width="5.04" height="127.35" fill="#dc8335"/>
<rect x="607.77" y="241.92" width="5.04" height="151.58" fill="#499c42"/>
<rect x="616.59" y="289.92" width="5.04" height="103.58" fill="#457ca7"/>
<rect x="621.63" y="261.30" width="5.04" height="132.20" fill="#dc8335"/>
<rect x="626.67" y="245.71" width="5.04" height="147.79" fill="#499c42"/>
<rect x="635.49" y="241.92" width="5.04" height="151.58" fill="#457ca7"/>
<rect x="640.53" y="241.92" width="5.04" height="151.58" fill="#dc8335"/>
<rect x="645.57" y="292.65" width="5.04" height="100.85" fill="#499c42"/>
<rect x="659.43" y="255.25" width="5.04" height="138.25" fill="#dc8335"/>
<rect x="664.47" y="248.74" width="5.04" height="144.76" fill="#499c42"/>
<rect x="558.00" y="234.50" width="113.40" height="159.00" fill="none" stroke="#111111" stroke-width="0.65"/>
<line x1="567.45" y1="393.50" x2="567.45" y2="396.00" stroke="#111111" stroke-width="0.65"/>
<g transform="translate(567.45 409.07) rotate(-45)"><text x="0.00" y="2.18" font-size="8.26" text-anchor="middle" textLength="21.77" lengthAdjust="spacingAndGlyphs" fill="#000000">Africa</text></g>
<line x1="586.35" y1="393.50" x2="586.35" y2="396.00" stroke="#111111" stroke-width="0.65"/>
<g transform="translate(586.35 406.96) rotate(-45)"><text x="0.00" y="2.18" font-size="8.26" text-anchor="middle" textLength="15.79" lengthAdjust="spacingAndGlyphs" fill="#000000">Asia</text></g>
<line x1="605.25" y1="393.50" x2="605.25" y2="396.00" stroke="#111111" stroke-width="0.65"/>
<g transform="translate(605.25 410.93) rotate(-45)"><text x="0.00" y="2.18" font-size="8.26" text-anchor="middle" textLength="27.68" lengthAdjust="spacingAndGlyphs" fill="#000000">Europe</text></g>
<line x1="624.15" y1="393.50" x2="624.15" y2="396.00" stroke="#111111" stroke-width="0.65"/>
<g transform="translate(624.15 421.32) rotate(-45)"><text x="0.00" y="2.18" font-size="8.26" text-anchor="middle" textLength="56.43" lengthAdjust="spacingAndGlyphs" fill="#000000">North America</text></g>
<line x1="643.05" y1="393.50" x2="643.05" y2="396.00" stroke="#111111" stroke-width="0.65"/>
<g transform="translate(643.05 412.53) rotate(-45)"><text x="0.00" y="2.18" font-size="8.26" text-anchor="middle" textLength="31.54" lengthAdjust="spacingAndGlyphs" fill="#000000">Oceania</text></g>
<line x1="661.95" y1="393.50" x2="661.95" y2="396.00" stroke="#111111" stroke-width="0.65"/>
<g transform="translate(661.95 421.63) rotate(-45)"><text x="0.00" y="2.18" font-size="8.26" text-anchor="middle" textLength="57.22" lengthAdjust="spacingAndGlyphs" fill="#000000">South America</text></g>
<line x1="555.50" y1="393.50" x2="558.00" y2="393.50" stroke="#111111" stroke-width="0.65"/>
<text x="553.40" y="396.48" font-size="8.41" text-anchor="end" textLength="4.63" lengthAdjust="spacingAndGlyphs" fill="#000000">0</text>
<line x1="555.50" y1="363.21" x2="558.00" y2="363.21" stroke="#111111" stroke-width="0.65"/>
<text x="553.40" y="366.19" font-size="8.41" text-anchor="end" textLength="9.72" lengthAdjust="spacingAndGlyphs" fill="#000000">20</text>
<line x1="555.50" y1="332.93" x2="558.00" y2="332.93" stroke="#111111" stroke-width="0.65"/>
<text x="553.40" y="335.91" font-size="8.41" text-anchor="end" textLength="9.67" lengthAdjust="spacingAndGlyphs" fill="#000000">40</text>
<line x1="555.50" y1="302.64" x2="558.00" y2="302.64" stroke="#111111" stroke-width="0.65"/>
<text x="553.40" y="305.62" font-size="8.41" text-anchor="end" textLength="9.76" lengthAdjust="spacingAndGlyphs" fill="#000000">60</text>
<line x1="555.50" y1="272.36" x2="558.00" y2="272.36" stroke="#111111" stroke-width="0.65"/>
<text x="553.40" y="275.34" font-size="8.41" text-anchor="end" textLength="9.71" lengthAdjust="spacingAndGlyphs" fill="#000000">80</text>
<line x1="555.50" y1="242.07" x2="558.00" y2="242.07" stroke="#111111" stroke-width="0.65"/>
<text x="553.40" y="245.05" font-size="8.41" text-anchor="end" textLength="14.70" lengthAdjust="spacingAndGlyphs" fill="#000000">100</text>
<text x="0.00" y="0.00" font-size="10.40" text-anchor="middle" textLength="92.01" lengthAdjust="spacingAndGlyphs" fill="#000000" transform="translate(533.90 314.00) rotate(-90)">Data available (%)</text>
<rect x="50.43" y="623.58" width="5.04" height="1.92" fill="#dc8335"/>
<rect x="55.47" y="620.22" width="5.04" height="5.28" fill="#499c42"/>
<rect x="69.33" y="609.66" width="5.04" height="15.84" fill="#dc8335"/>
<rect x="74.37" y="474.06" width="5.04" height="151.44" fill="#499c42"/>
<rect x="83.19" y="625.45" width="5.04" height="0.05" fill="#457ca7"/>
<rect x="88.23" y="565.98" width="5.04" height="59.52" fill="#dc8335"/>
<rect x="93.27" y="544.62" width="5.04" height="80.88" fill="#499c42"/>
<rect x="107.13" y="613.02" width="5.04" height="12.48" fill="#dc8335"/>
<rect x="112.17" y="564.66" width="5.04" height="60.84" fill="#499c42"/>
<rect x="126.03" y="623.22" width="5.04" height="2.28" fill="#dc8335"/>
<rect x="131.07" y="622.14" width="5.04" height="3.36" fill="#499c42"/>
<rect x="144.93" y="624.66" width="5.04" height="0.84" fill="#dc8335"/>
<rect x="149.97" y="623.94" width="5.04" height="1.56" fill="#499c42"/>
<rect x="43.50" y="466.50" width="113.40" height="159.00" fill="none" stroke="#111111" stroke-width="0.65"/>
<line x1="52.95" y1="625.50" x2="52.95" y2="628.00" stroke="#111111" stroke-width="0.65"/>
<g transform="translate(52.95 641.07) rotate(-45)"><text x="0.00" y="2.18" font-size="8.26" text-anchor="middle" textLength="21.77" lengthAdjust="spacingAndGlyphs" fill="#000000">Africa</text></g>
<line x1="71.85" y1="625.50" x2="71.85" y2="628.00" stroke="#111111" stroke-width="0.65"/>
<g transform="translate(71.85 638.96) rotate(-45)"><text x="0.00" y="2.18" font-size="8.26" text-anchor="middle" textLength="15.79" lengthAdjust="spacingAndGlyphs" fill="#000000">Asia</text></g>
<line x1="90.75" y1="625.50" x2="90.75" y2="628.00" stroke="#111111" stroke-width="0.65"/>
<g transform="translate(90.75 642.93) rotate(-45)"><text x="0.00" y="2.18" font-size="8.26" text-anchor="middle" textLength="27.68" lengthAdjust="spacingAndGlyphs" fill="#000000">Europe</text></g>
<line x1="109.65" y1="625.50" x2="109.65" y2="628.00" stroke="#111111" stroke-width="0.65"/>
<g transform="translate(109.65 653.32) rotate(-45)"><text x="0.00" y="2.18" font-size="8.26" text-anchor="middle" textLength="56.43" lengthAdjust="spacingAndGlyphs" fill="#000000">North America</text></g>
<line x1="128.55" y1="625.50" x2="128.55" y2="628.00" stroke="#111111" stroke-width="0.65"/>
<g transform="translate(128.55 644.53) rotate(-45)"><text x="0.00" y="2.18" font-size="8.26" text-anchor="middle" textLength="31.54" lengthAdjust="spacingAndGlyphs" fill="#000000">Oceania</text></g>
<line x1="147.45" y1="625.50" x2="147.45" y2="628.00" stroke="#111111" stroke-width="0.65"/>
<g transform="translate(147.45 653.63) rotate(-45)"><text x="0.00" y="2.18" font-size="8.26" text-anchor="middle" textLength="57.22" lengthAdjust="spacingAndGlyphs" fill="#000000">South America</text></g>
<line x1="41.00" y1="625.50" x2="43.50" y2="625.50" stroke="#111111" stroke-width="0.65"/>
<text x="38.90" y="628.48" font-size="8.41" text-anchor="end" textLength="4.63" lengthAdjust="spacingAndGlyphs" fill="#000000">0</text>
<line x1="41.00" y1="601.50" x2="43.50" y2="601.50" stroke="#111111" stroke-width="0.65"/>
<text x="38.90" y="604.48" font-size="8.41" text-anchor="end" textLength="9.66" lengthAdjust="spacingAndGlyphs" fill="#000000">10</text>
<line x1="41.00" y1="577.50" x2="43.50" y2="577.50" stroke="#111111" stroke-width="0.65"/>
<text x="38.90" y="580.48" font-size="8.41" text-anchor="end" textLength="9.72" lengthAdjust="spacingAndGlyphs" fill="#000000">20</text>
<line x1="41.00" y1="553.50" x2="43.50" y2="553.50" stroke="#111111" stroke-width="0.65"/>
<text x="38.90" y="556.48" font-size="8.41" text-anchor="end" textLength="9.58" lengthAdjust="spacingAndGlyphs" fill="#000000">30</text>
<line x1="41.00" y1="529.50" x2="43.50" y2="529.50" stroke="#111111" stroke-width="0.65"/>
<text x="38.90" y="532.48" font-size="8.41" text-anchor="end" textLength="9.67" lengthAdjust="spacingAndGlyphs" fill="#000000">40</text>
<line x1="41.00" y1="505.50" x2="43.50" y2="505.50" stroke="#111111" stroke-width="0.65"/>
<text x="38.90" y="508.48" font-size="8.41" text-anchor="end" textLength="9.59" lengthAdjust="spacingAndGlyphs" fill="#000000">50</text>
<line x1="41.00" y1="481.50" x2="43.50" y2="481.50" stroke="#111111" stroke-width="0.65"/>
<text x="38.90" y="484.48" font-size="8.41" text-anchor="end" textLength="9.76" lengthAdjust="spacingAndGlyphs" fill="#000000">60</text>
<text x="0.00" y="0.00" font-size="10.40" text-anchor="middle" textLength="11.93" lengthAdjust="spacingAndGlyphs" fill="#000000" transform="translate(13.50 546.00) rotate(-90)">PS</text>
<text x="0.00" y="0.00" font-size="10.40" text-anchor="middle" textLength="71.78" lengthAdjust="spacingAndGlyphs" fill="#000000" transform="translate(23.60 546.00) rotate(-90)">Capacity (GW)</text>
<text x="47.91" y="625.70" font-size="6.98" text-anchor="middle" textLength="3.84" lengthAdjust="spacingAndGlyphs" fill="#000000">0</text>
<text x="52.95" y="623.78" font-size="6.98" text-anchor="middle" textLength="3.69" lengthAdjust="spacingAndGlyphs" fill="#000000">3</text>
<text x="57.99" y="620.42" font-size="6.98" text-anchor="middle" textLength="3.71" lengthAdjust="spacingAndGlyphs" fill="#000000">2</text>
<text x="66.81" y="625.70" font-size="6.98" text-anchor="middle" textLength="3.84" lengthAdjust="spacingAndGlyphs" fill="#000000">0</text>
<text x="71.85" y="609.86" font-size="6.98" text-anchor="middle" textLength="8.10" lengthAdjust="spacingAndGlyphs" fill="#000000">29</text>
<text x="76.89" y="474.26" font-size="6.98" text-anchor="middle" textLength="8.00" lengthAdjust="spacingAndGlyphs" fill="#000000">59</text>
<text x="85.71" y="625.65" font-size="6.98" text-anchor="middle" textLength="3.84" lengthAdjust="spacingAndGlyphs" fill="#000000">4</text>
<text x="90.75" y="566.18" font-size="6.98" text-anchor="middle" textLength="12.19" lengthAdjust="spacingAndGlyphs" fill="#000000">144</text>
<text x="95.79" y="544.82" font-size="6.98" text-anchor="middle" textLength="8.01" lengthAdjust="spacingAndGlyphs" fill="#000000">36</text>
<text x="104.61" y="625.70" font-size="6.98" text-anchor="middle" textLength="3.84" lengthAdjust="spacingAndGlyphs" fill="#000000">0</text>
<text x="109.65" y="613.22" font-size="6.98" text-anchor="middle" textLength="8.10" lengthAdjust="spacingAndGlyphs" fill="#000000">29</text>
<text x="114.69" y="564.86" font-size="6.98" text-anchor="middle" textLength="7.97" lengthAdjust="spacingAndGlyphs" fill="#000000">17</text>
<text x="123.51" y="625.70" font-size="6.98" text-anchor="middle" textLength="3.67" lengthAdjust="spacingAndGlyphs" fill="#000000">1</text>
<text x="128.55" y="623.42" font-size="6.98" text-anchor="middle" textLength="3.84" lengthAdjust="spacingAndGlyphs" fill="#000000">4</text>
<text x="133.59" y="622.34" font-size="6.98" text-anchor="middle" textLength="3.67" lengthAdjust="spacingAndGlyphs" fill="#000000">1</text>
<text x="142.41" y="625.70" font-size="6.98" text-anchor="middle" textLength="3.84" lengthAdjust="spacingAndGlyphs" fill="#000000">0</text>
<text x="147.45" y="624.86" font-size="6.98" text-anchor="middle" textLength="3.71" lengthAdjust="spacingAndGlyphs" fill="#000000">2</text>
<text x="152.49" y="624.14" font-size="6.98" text-anchor="middle" textLength="3.67" lengthAdjust="spacingAndGlyphs" fill="#000000">1</text>
<rect x="221.98" y="473.92" width="5.04" height="151.58" fill="#dc8335"/>
<rect x="227.02" y="473.92" width="5.04" height="151.58" fill="#499c42"/>
<rect x="240.88" y="500.12" width="5.04" height="125.38" fill="#dc8335"/>
<rect x="245.92" y="484.22" width="5.04" height="141.28" fill="#499c42"/>
<rect x="254.74" y="549.64" width="5.04" height="75.86" fill="#457ca7"/>
<rect x="259.78" y="496.03" width="5.04" height="129.47" fill="#dc8335"/>
<rect x="264.82" y="482.40" width="5.04" height="143.10" fill="#499c42"/>
<rect x="278.68" y="526.16" width="5.04" height="99.34" fill="#dc8335"/>
<rect x="283.72" y="483.01" width="5.04" height="142.49" fill="#499c42"/>
<rect x="297.58" y="473.92" width="5.04" height="151.58" fill="#dc8335"/>
<rect x="302.62" y="473.92" width="5.04" height="151.58" fill="#499c42"/>
<rect x="316.48" y="549.64" width="5.04" height="75.86" fill="#dc8335"/>
<rect x="321.52" y="473.92" width="5.04" height="151.58" fill="#499c42"/>
<rect x="215.05" y="466.50" width="113.40" height="159.00" fill="none" stroke="#111111" stroke-width="0.65"/>
<line x1="224.50" y1="625.50" x2="224.50" y2="628.00" stroke="#111111" stroke-width="0.65"/>
<g transform="translate(224.50 641.07) rotate(-45)"><text x="0.00" y="2.18" font-size="8.26" text-anchor="middle" textLength="21.77" lengthAdjust="spacingAndGlyphs" fill="#000000">Africa</text></g>
<line x1="243.40" y1="625.50" x2="243.40" y2="628.00" stroke="#111111" stroke-width="0.65"/>
<g transform="translate(243.40 638.96) rotate(-45)"><text x="0.00" y="2.18" font-size="8.26" text-anchor="middle" textLength="15.79" lengthAdjust="spacingAndGlyphs" fill="#000000">Asia</text></g>
<line x1="262.30" y1="625.50" x2="262.30" y2="628.00" stroke="#111111" stroke-width="0.65"/>
<g transform="translate(262.30 642.93) rotate(-45)"><text x="0.00" y="2.18" font-size="8.26" text-anchor="middle" textLength="27.68" lengthAdjust="spacingAndGlyphs" fill="#000000">Europe</text></g>
<line x1="281.20" y1="625.50" x2="281.20" y2="628.00" stroke="#111111" stroke-width="0.65"/>
<g transform="translate(281.20 653.32) rotate(-45)"><text x="0.00" y="2.18" font-size="8.26" text-anchor="middle" textLength="56.43" lengthAdjust="spacingAndGlyphs" fill="#000000">North America</text></g>
<line x1="300.10" y1="625.50" x2="300.10" y2="628.00" stroke="#111111" stroke-width="0.65"/>
<g transform="translate(300.10 644.53) rotate(-45)"><text x="0.00" y="2.18" font-size="8.26" text-anchor="middle" textLength="31.54" lengthAdjust="spacingAndGlyphs" fill="#000000">Oceania</text></g>
<line x1="319.00" y1="625.50" x2="319.00" y2="628.00" stroke="#111111" stroke-width="0.65"/>
<g transform="translate(319.00 653.63) rotate(-45)"><text x="0.00" y="2.18" font-size="8.26" text-anchor="middle" textLength="57.22" lengthAdjust="spacingAndGlyphs" fill="#000000">South America</text></g>
<line x1="212.55" y1="625.50" x2="215.05" y2="625.50" stroke="#111111" stroke-width="0.65"/>
<text x="210.45" y="628.48" font-size="8.41" text-anchor="end" textLength="4.63" lengthAdjust="spacingAndGlyphs" fill="#000000">0</text>
<line x1="212.55" y1="595.21" x2="215.05" y2="595.21" stroke="#111111" stroke-width="0.65"/>
<text x="210.45" y="598.19" font-size="8.41" text-anchor="end" textLength="9.72" lengthAdjust="spacingAndGlyphs" fill="#000000">20</text>
<line x1="212.55" y1="564.93" x2="215.05" y2="564.93" stroke="#111111" stroke-width="0.65"/>
<text x="210.45" y="567.91" font-size="8.41" text-anchor="end" textLength="9.67" lengthAdjust="spacingAndGlyphs" fill="#000000">40</text>
<line x1="212.55" y1="534.64" x2="215.05" y2="534.64" stroke="#111111" stroke-width="0.65"/>
<text x="210.45" y="537.62" font-size="8.41" text-anchor="end" textLength="9.76" lengthAdjust="spacingAndGlyphs" fill="#000000">60</text>
<line x1="212.55" y1="504.36" x2="215.05" y2="504.36" stroke="#111111" stroke-width="0.65"/>
<text x="210.45" y="507.34" font-size="8.41" text-anchor="end" textLength="9.71" lengthAdjust="spacingAndGlyphs" fill="#000000">80</text>
<line x1="212.55" y1="474.07" x2="215.05" y2="474.07" stroke="#111111" stroke-width="0.65"/>
<text x="210.45" y="477.05" font-size="8.41" text-anchor="end" textLength="14.70" lengthAdjust="spacingAndGlyphs" fill="#000000">100</text>
<text x="0.00" y="0.00" font-size="10.40" text-anchor="middle" textLength="92.01" lengthAdjust="spacingAndGlyphs" fill="#000000" transform="translate(190.95 546.00) rotate(-90)">Data available (%)</text>
<rect x="393.43" y="473.92" width="5.04" height="151.58" fill="#dc8335"/>
<rect x="398.47" y="473.92" width="5.04" height="151.58" fill="#499c42"/>
<rect x="412.33" y="479.22" width="5.04" height="146.28" fill="#dc8335"/>
<rect x="417.37" y="476.80" width="5.04" height="148.70" fill="#499c42"/>
<rect x="426.19" y="549.64" width="5.04" height="75.86" fill="#457ca7"/>
<rect x="431.23" y="483.46" width="5.04" height="142.04" fill="#dc8335"/>
<rect x="436.27" y="473.92" width="5.04" height="151.58" fill="#499c42"/>
<rect x="450.13" y="489.82" width="5.04" height="135.68" fill="#dc8335"/>
<rect x="455.17" y="473.92" width="5.04" height="151.58" fill="#499c42"/>
<rect x="463.99" y="473.92" width="5.04" height="151.58" fill="#457ca7"/>
<rect x="469.03" y="511.78" width="5.04" height="113.72" fill="#dc8335"/>
<rect x="474.07" y="473.92" width="5.04" height="151.58" fill="#499c42"/>
<rect x="487.93" y="473.92" width="5.04" height="151.58" fill="#dc8335"/>
<rect x="492.97" y="473.92" width="5.04" height="151.58" fill="#499c42"/>
<rect x="386.50" y="466.50" width="113.40" height="159.00" fill="none" stroke="#111111" stroke-width="0.65"/>
<line x1="395.95" y1="625.50" x2="395.95" y2="628.00" stroke="#111111" stroke-width="0.65"/>
<g transform="translate(395.95 641.07) rotate(-45)"><text x="0.00" y="2.18" font-size="8.26" text-anchor="middle" textLength="21.77" lengthAdjust="spacingAndGlyphs" fill="#000000">Africa</text></g>
<line x1="414.85" y1="625.50" x2="414.85" y2="628.00" stroke="#111111" stroke-width="0.65"/>
<g transform="translate(414.85 638.96) rotate(-45)"><text x="0.00" y="2.18" font-size="8.26" text-anchor="middle" textLength="15.79" lengthAdjust="spacingAndGlyphs" fill="#000000">Asia</text></g>
<line x1="433.75" y1="625.50" x2="433.75" y2="628.00" stroke="#111111" stroke-width="0.65"/>
<g transform="translate(433.75 642.93) rotate(-45)"><text x="0.00" y="2.18" font-size="8.26" text-anchor="middle" textLength="27.68" lengthAdjust="spacingAndGlyphs" fill="#000000">Europe</text></g>
<line x1="452.65" y1="625.50" x2="452.65" y2="628.00" stroke="#111111" stroke-width="0.65"/>
<g transform="translate(452.65 653.32) rotate(-45)"><text x="0.00" y="2.18" font-size="8.26" text-anchor="middle" textLength="56.43" lengthAdjust="spacingAndGlyphs" fill="#000000">North America</text></g>
<line x1="471.55" y1="625.50" x2="471.55" y2="628.00" stroke="#111111" stroke-width="0.65"/>
<g transform="translate(471.55 644.53) rotate(-45)"><text x="0.00" y="2.18" font-size="8.26" text-anchor="middle" textLength="31.54" lengthAdjust="spacingAndGlyphs" fill="#000000">Oceania</text></g>
<line x1="490.45" y1="625.50" x2="490.45" y2="628.00" stroke="#111111" stroke-width="0.65"/>
<g transform="translate(490.45 653.63) rotate(-45)"><text x="0.00" y="2.18" font-size="8.26" text-anchor="middle" textLength="57.22" lengthAdjust="spacingAndGlyphs" fill="#000000">South America</text></g>
<line x1="384.00" y1="625.50" x2="386.50" y2="625.50" stroke="#111111" stroke-width="0.65"/>
<text x="381.90" y="628.48" font-size="8.41" text-anchor="end" textLength="4.63" lengthAdjust="spacingAndGlyphs" fill="#000000">0</text>
<line x1="384.00" y1="595.21" x2="386.50" y2="595.21" stroke="#111111" stroke-width="0.65"/>
<text x="381.90" y="598.19" font-size="8.41" text-anchor="end" textLength="9.72" lengthAdjust="spacingAndGlyphs" fill="#000000">20</text>
<line x1="384.00" y1="564.93" x2="386.50" y2="564.93" stroke="#111111" stroke-width="0.65"/>
<text x="381.90" y="567.91" font-size="8.41" text-anchor="end" textLength="9.67" lengthAdjust="spacingAndGlyphs" fill="#000000">40</text>
<line x1="384.00" y1="534.64" x2="386.50" y2="534.64" stroke="#111111" stroke-width="0.65"/>
<text x="381.90" y="537.62" font-size="8.41" text-anchor="end" textLength="9.76" lengthAdjust="spacingAndGlyphs" fill="#000000">60</text>
<line x1="384.00" y1="504.36" x2="386.50" y2="504.36" stroke="#111111" stroke-width="0.65"/>
<text x="381.90" y="507.34" font-size="8.41" text-anchor="end" textLength="9.71" lengthAdjust="spacingAndGlyphs" fill="#000000">80</text>
<line x1="384.00" y1="474.07" x2="386.50" y2="474.07" stroke="#111111" stroke-width="0.65"/>
<text x="381.90" y="477.05" font-size="8.41" text-anchor="end" textLength="14.70" lengthAdjust="spacingAndGlyphs" fill="#000000">100</text>
<text x="0.00" y="0.00" font-size="10.40" text-anchor="middle" textLength="92.01" lengthAdjust="spacingAndGlyphs" fill="#000000" transform="translate(362.40 546.00) rotate(-90)">Data available (%)</text>
<rect x="564.93" y="524.50" width="5.04" height="101.00" fill="#dc8335"/>
<rect x="569.97" y="549.64" width="5.04" height="75.86" fill="#499c42"/>
<rect x="583.83" y="484.37" width="5.04" height="141.13" fill="#dc8335"/>
<rect x="588.87" y="551.00" width="5.04" height="74.50" fill="#499c42"/>
<rect x="602.73" y="499.21" width="5.04" height="126.29" fill="#dc8335"/>
<rect x="607.77" y="503.75" width="5.04" height="121.75" fill="#499c42"/>
<rect x="621.63" y="489.82" width="5.04" height="135.68" fill="#dc8335"/>
<rect x="626.67" y="473.92" width="5.04" height="151.58" fill="#499c42"/>
<rect x="635.49" y="473.92" width="5.04" height="151.58" fill="#457ca7"/>
<rect x="640.53" y="511.78" width="5.04" height="113.72" fill="#dc8335"/>
<rect x="645.57" y="473.92" width="5.04" height="151.58" fill="#499c42"/>
<rect x="659.43" y="473.92" width="5.04" height="151.58" fill="#dc8335"/>
<rect x="664.47" y="473.92" width="5.04" height="151.58" fill="#499c42"/>
<rect x="558.00" y="466.50" width="113.40" height="159.00" fill="none" stroke="#111111" stroke-width="0.65"/>
<line x1="567.45" y1="625.50" x2="567.45" y2="628.00" stroke="#111111" stroke-width="0.65"/>
<g transform="translate(567.45 641.07) rotate(-45)"><text x="0.00" y="2.18" font-size="8.26" text-anchor="middle" textLength="21.77" lengthAdjust="spacingAndGlyphs" fill="#000000">Africa</text></g>
<line x1="586.35" y1="625.50" x2="586.35" y2="628.00" stroke="#111111" stroke-width="0.65"/>
<g transform="translate(586.35 638.96) rotate(-45)"><text x="0.00" y="2.18" font-size="8.26" text-anchor="middle" textLength="15.79" lengthAdjust="spacingAndGlyphs" fill="#000000">Asia</text></g>
<line x1="605.25" y1="625.50" x2="605.25" y2="628.00" stroke="#111111" stroke-width="0.65"/>
<g transform="translate(605.25 642.93) rotate(-45)"><text x="0.00" y="2.18" font-size="8.26" text-anchor="middle" textLength="27.68" lengthAdjust="spacingAndGlyphs" fill="#000000">Europe</text></g>
<line x1="624.15" y1="625.50" x2="624.15" y2="628.00" stroke="#111111" stroke-width="0.65"/>
<g transform="translate(624.15 653.32) rotate(-45)"><text x="0.00" y="2.18" font-size="8.26" text-anchor="middle" textLength="56.43" lengthAdjust="spacingAndGlyphs" fill="#000000">North America</text></g>
<line x1="643.05" y1="625.50" x2="643.05" y2="628.00" stroke="#111111" stroke-width="0.65"/>
<g transform="translate(643.05 644.53) rotate(-45)"><text x="0.00" y="2.18" font-size="8.26" text-anchor="middle" textLength="31.54" lengthAdjust="spacingAndGlyphs" fill="#000000">Oceania</text></g>
<line x1="661.95" y1="625.50" x2="661.95" y2="628.00" stroke="#111111" stroke-width="0.65"/>
<g transform="translate(661.95 653.63) rotate(-45)"><text x="0.00" y="2.18" font-size="8.26" text-anchor="middle" textLength="57.22" lengthAdjust="spacingAndGlyphs" fill="#000000">South America</text></g>
<line x1="555.50" y1="625.50" x2="558.00" y2="625.50" stroke="#111111" stroke-width="0.65"/>
<text x="553.40" y="628.48" font-size="8.41" text-anchor="end" textLength="4.63" lengthAdjust="spacingAndGlyphs" fill="#000000">0</text>
<line x1="555.50" y1="595.21" x2="558.00" y2="595.21" stroke="#111111" stroke-width="0.65"/>
<text x="553.40" y="598.19" font-size="8.41" text-anchor="end" textLength="9.72" lengthAdjust="spacingAndGlyphs" fill="#000000">20</text>
<line x1="555.50" y1="564.93" x2="558.00" y2="564.93" stroke="#111111" stroke-width="0.65"/>
<text x="553.40" y="567.91" font-size="8.41" text-anchor="end" textLength="9.67" lengthAdjust="spacingAndGlyphs" fill="#000000">40</text>
<line x1="555.50" y1="534.64" x2="558.00" y2="534.64" stroke="#111111" stroke-width="0.65"/>
<text x="553.40" y="537.62" font-size="8.41" text-anchor="end" textLength="9.76" lengthAdjust="spacingAndGlyphs" fill="#000000">60</text>
<line x1="555.50" y1="504.36" x2="558.00" y2="504.36" stroke="#111111" stroke-width="0.65"/>
<text x="553.40" y="507.34" font-size="8.41" text-anchor="end" textLength="9.71" lengthAdjust="spacingAndGlyphs" fill="#000000">80</text>
<line x1="555.50" y1="474.07" x2="558.00" y2="474.07" stroke="#111111" stroke-width="0.65"/>
<text x="553.40" y="477.05" font-size="8.41" text-anchor="end" textLength="14.70" lengthAdjust="spacingAndGlyphs" fill="#000000">100</text>
<text x="0.00" y="0.00" font-size="10.40" text-anchor="middle" textLength="92.01" lengthAdjust="spacingAndGlyphs" fill="#000000" transform="translate(533.90 546.00) rotate(-90)">Data available (%)</text>
<text x="343.00" y="672.90" font-size="10.40" text-anchor="middle" textLength="53.55" lengthAdjust="spacingAndGlyphs" fill="#000000">Categories</text>
<rect x="202.85" y="680.7" width="19.8" height="7.0" fill="#457ca7"/>
<text x="230.85" y="687.7" font-size="10.40" textLength="43.37" lengthAdjust="spacingAndGlyphs" fill="#000000">&lt;5 (MW)</text>
<rect x="293.50" y="680.7" width="19.8" height="7.0" fill="#dc8335"/>
<text x="321.50" y="687.7" font-size="10.40" textLength="57.77" lengthAdjust="spacingAndGlyphs" fill="#000000">5-500 (MW)</text>
<rect x="398.90" y="680.7" width="19.8" height="7.0" fill="#499c42"/>
<text x="426.90" y="687.7" font-size="10.40" textLength="56.04" lengthAdjust="spacingAndGlyphs" fill="#000000">&gt;500 (MW)</text>
</svg>
</body></html>
